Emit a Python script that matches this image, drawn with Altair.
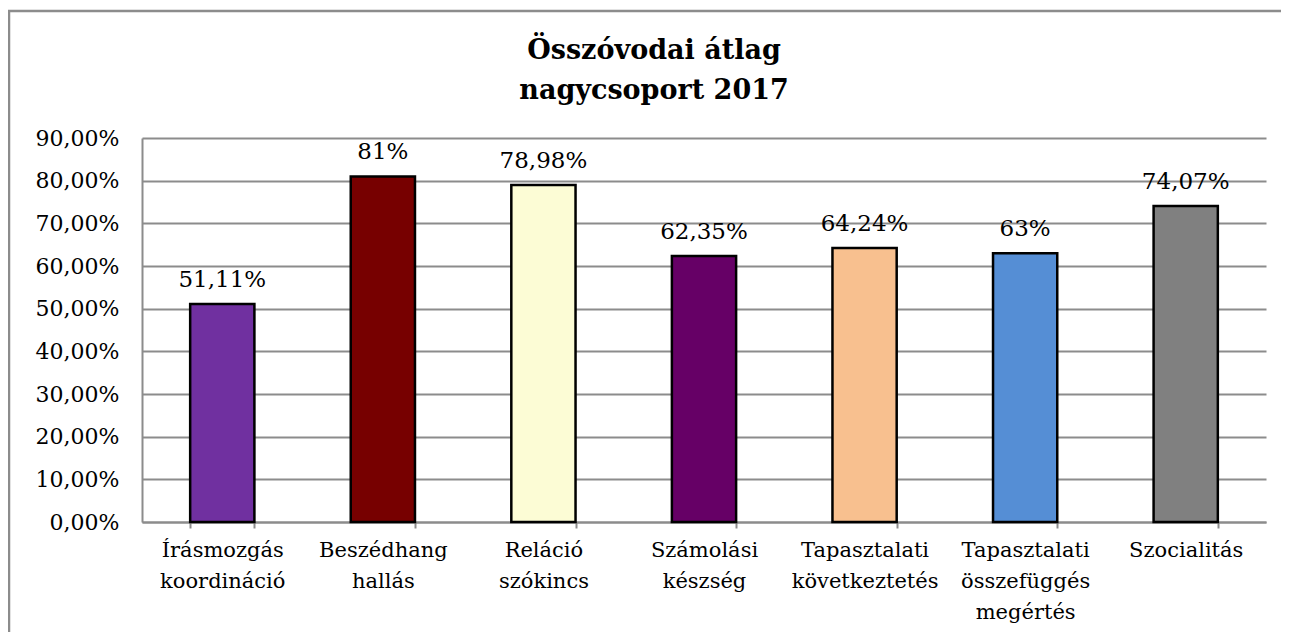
import altair as alt
import pandas as pd

categories = [
    "Írásmozgás|koordináció",
    "Beszédhang|hallás",
    "Reláció|szókincs",
    "Számolási|készség",
    "Tapasztalati|következtetés",
    "Tapasztalati|összefüggés|megértés",
    "Szocialitás",
]
values = [51.11, 81.0, 78.98, 62.35, 64.24, 63.0, 74.07]
value_labels = ["51,11%", "81%", "78,98%", "62,35%", "64,24%", "63%", "74,07%"]
colors = ["#7030A0", "#770000", "#FCFCD5", "#660066", "#F8C08F", "#558ED5", "#808080"]
y_ticks = [0, 10, 20, 30, 40, 50, 60, 70, 80, 90]
title_lines = ["Összóvodai átlag", "nagycsoport 2017"]

df = pd.DataFrame({"cat": categories, "val": values, "lbl": value_labels, "col": colors})

FONT = "DejaVu Serif"

x_enc = alt.X(
    "cat:N",
    sort=None,
    title=None,
    scale=alt.Scale(paddingInner=0.6, paddingOuter=0.3),
    axis=alt.Axis(
        labelAngle=0,
        labelExpr="split(datum.label, '|')",
        labelFont=FONT,
        labelFontSize=21,
        labelColor="#000000",
        labelLineHeight=31,
        labelPadding=11,
        labelBaseline="top",
        ticks=True,
        tickBand="extent",
        tickSize=6,
        tickColor="#8c8c8c",
        tickWidth=2,
        domainColor="#8c8c8c",
        domainWidth=2,
        grid=False,
    ),
)

y_enc = alt.Y(
    "val:Q",
    title=None,
    scale=alt.Scale(domain=[0, 90], nice=False),
    axis=alt.Axis(
        values=y_ticks,
        labelExpr="replace(format(datum.value, '.2f'), '.', ',') + '%'",
        labelFont=FONT,
        labelFontSize=22,
        labelColor="#000000",
        labelPadding=23,
        ticks=False,
        domainColor="#8c8c8c",
        domainWidth=2,
        grid=True,
        gridColor="#8c8c8c",
        gridWidth=2,
    ),
)

bars = alt.Chart(df).mark_bar(stroke="#000000", strokeWidth=2.5).encode(
    x=x_enc,
    y=y_enc,
    color=alt.Color("col:N", scale=None, legend=None),
)

texts = alt.Chart(df).mark_text(
    font=FONT, fontSize=23, color="#000000", baseline="alphabetic", dy=-17
).encode(
    x=alt.X("cat:N", sort=None),
    y=alt.Y("val:Q"),
    text="lbl:N",
)

frame = alt.Chart(pd.DataFrame({"a": [0]})).mark_rect(
    fill="white", fillOpacity=0, stroke="#8c8c8c", strokeWidth=2.5
).encode(
    x=alt.value(-133),
    x2=alt.value(1250),
    y=alt.value(-127),
    y2=alt.value(650),
)

title = alt.Chart(pd.DataFrame({"a": [0]})).mark_text(
    font=FONT, fontSize=27, fontWeight="bold", color="#000000",
    align="center", baseline="alphabetic", lineHeight=40,
).encode(
    x=alt.value(512),
    y=alt.value(-79),
    text=alt.value(title_lines),
)

chart = alt.layer(frame, bars, texts, title).properties(
    width=1124,
    height=384,
    padding={"left": 134, "top": 130, "right": 15, "bottom": 110},
    autosize=alt.AutoSizeParams(type="none"),
).configure_view(stroke=None)

chart.save("out.html", embed_options={"renderer": "svg", "actions": False})
